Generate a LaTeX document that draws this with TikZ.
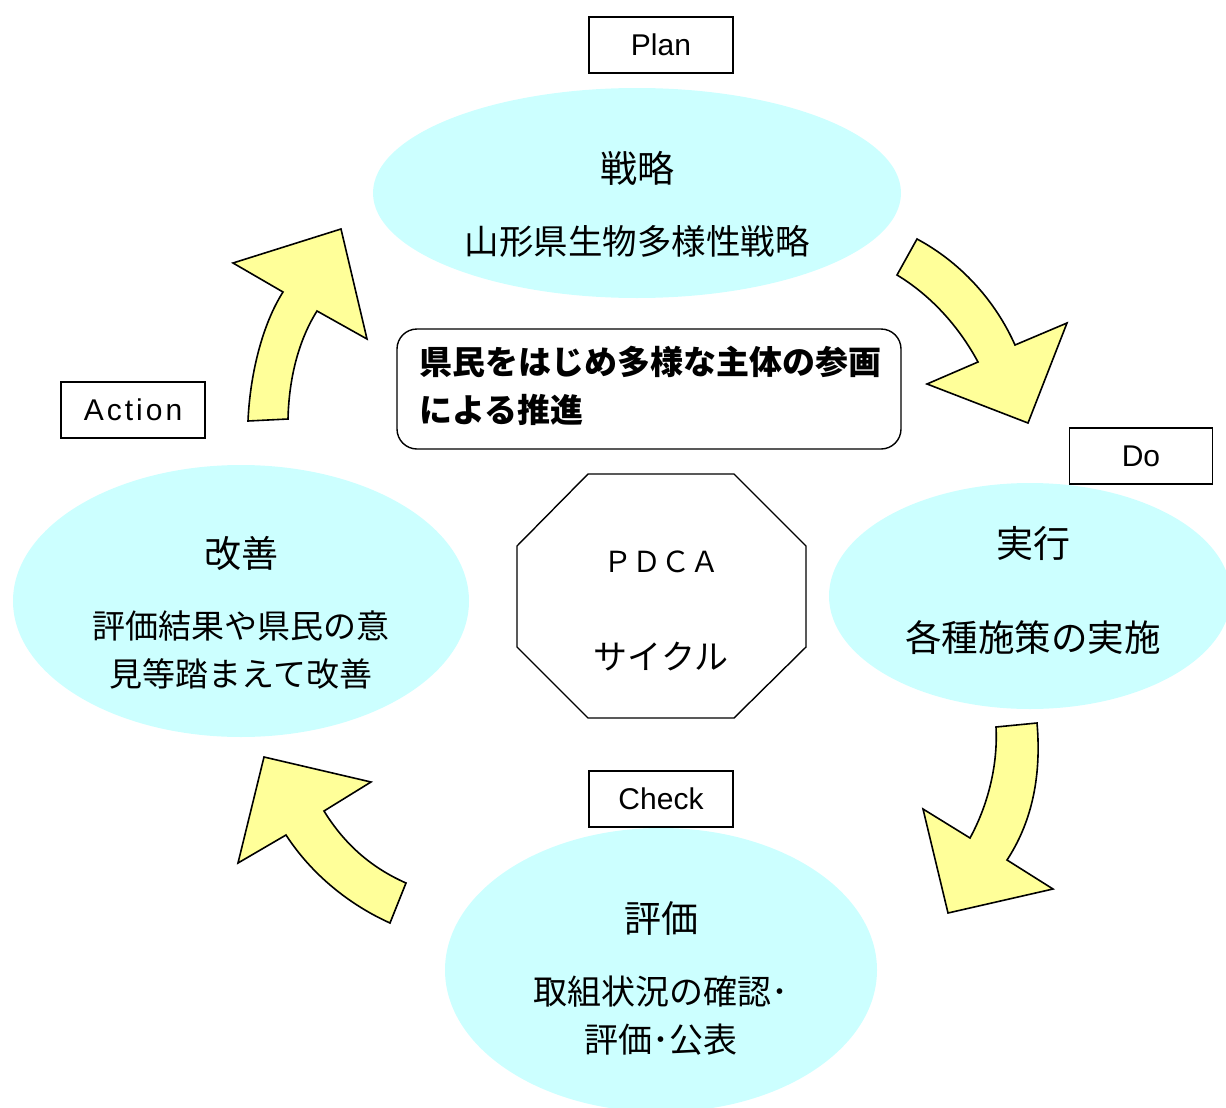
\documentclass[tikz,border=0pt]{standalone}
\usepackage{fontspec}
\setmainfont{Liberation Sans}
\newfontfamily\jp{Noto Sans CJK JP}
\usetikzlibrary{shapes.geometric}
\definecolor{bubble}{HTML}{CCFFFF}
\definecolor{arrowfill}{HTML}{FFFF99}
\tikzset{
  bubble/.style={ellipse, fill=bubble, draw=none, inner sep=0pt},
  label box/.style={draw, line width=1.4pt, minimum width=144, minimum height=56, inner sep=0pt, font=\fontsize{30}{34}\selectfont},
  jtitle/.style={font=\jp\fontsize{37}{42}\selectfont, inner sep=0pt},
  jtext/.style={font=\jp\fontsize{34}{40}\selectfont, inner sep=0pt},
  bigarrow/.style={fill=arrowfill, draw=black, line width=1.6pt, line join=miter},
}
\begin{document}
\begin{tikzpicture}[x=1pt,y=-1pt]
\useasboundingbox (0,0) rectangle (1226,1108);
\clip (0,0) rectangle (1226,1108);

% ellipses
\node[bubble, minimum width=528, minimum height=210] (plan) at (637,193) {};
\node[bubble, minimum width=402, minimum height=226] (do) at (1030,596) {};
\node[bubble, minimum width=456, minimum height=272] (act) at (241,601) {};
\node[bubble, minimum width=432, minimum height=284] (chk) at (661,970) {};

% label boxes
\node[label box] (planlbl) at (661,45) {Plan};
\node[label box] (actlbl) at (133,410) {\addfontfeature{LetterSpace=10}Action};
\node[label box, minimum width=143] (dolbl) at (1141,456) {Do};
\node[label box] (chklbl) at (661,799) {Check};

% ellipse texts
\node[jtitle] (plant) at (637,168) {戦略};
\node[jtext, font=\jp\fontsize{34.5}{40}\selectfont] (plans) at (637,241) {山形県生物多様性戦略};
\node[jtitle] (dot) at (1033,543) {実行};
\node[jtext, font=\jp\fontsize{36.5}{40}\selectfont] (dos) at (1033,638) {各種施策の実施};
\node[jtitle] (actt) at (241,553) {改善};
\node[jtext, font=\jp\fontsize{33}{40}\selectfont] (acts1) at (241,626) {評価結果や県民の意};
\node[jtext, font=\jp\fontsize{33}{40}\selectfont] (acts2) at (241,674) {見等踏まえて改善};
\node[jtitle] (chkt) at (661,918) {評価};
\node[jtext] (chks1) at (661,992) {取組状況の確認･};
\node[jtext] (chks2) at (661,1040) {評価･公表};

% rounded box
\node[draw, line width=1.4pt, rounded corners=20, minimum width=504, minimum height=120, inner sep=0pt] (center) at (649,389) {};
\node[anchor=west, inner sep=0pt, font=\jp\bfseries\fontsize{33}{40}\selectfont] (c1) at (419,362) {県民をはじめ多様な主体の参画};
\node[anchor=west, inner sep=0pt, font=\jp\bfseries\fontsize{33}{40}\selectfont] (c2) at (419,410) {による推進};

% octagon
\draw[line width=1.4pt, line join=miter] (588,474) -- (734,474) -- (806,546) -- (806,647) -- (734,718) -- (588,718) -- (517,647) -- (517,546) -- cycle;
\node[inner sep=0pt, font=\jp\fontsize{29}{34}\selectfont] (pdca) at (661,562) {ＰＤＣＡ};
\node[inner sep=0pt, font=\jp\fontsize{34}{40}\selectfont] (cycle) at (661,657) {サイクル};

% arrows
% Action -> Plan
\draw[bigarrow] (248,421) .. controls (250,375) and (262,325) .. (283,292)
  -- (233,263) -- (341,229) -- (367,339) -- (317,311)
  .. controls (300,338) and (289,375) .. (288,419) -- cycle;
% Plan -> Do
\draw[bigarrow] (917,239) .. controls (960,262) and (995,300) .. (1015,345)
  -- (1067,323) -- (1028,423) -- (927,384) -- (978,362)
  .. controls (958,325) and (930,295) .. (897,275) -- cycle;
% Do -> Check
\draw[bigarrow] (1037,723) .. controls (1042,780) and (1030,825) .. (1007,860)
  -- (1053,889) -- (948,913) -- (923,809) -- (970,838)
  .. controls (988,805) and (998,765) .. (996,727) -- cycle;
% Check -> Action
\draw[bigarrow] (390,923) .. controls (350,905) and (312,875) .. (286,835)
  -- (238,863) -- (264,757) -- (371,782) -- (324,811)
  .. controls (345,845) and (372,868) .. (406,883) -- cycle;
\end{tikzpicture}
\end{document}
